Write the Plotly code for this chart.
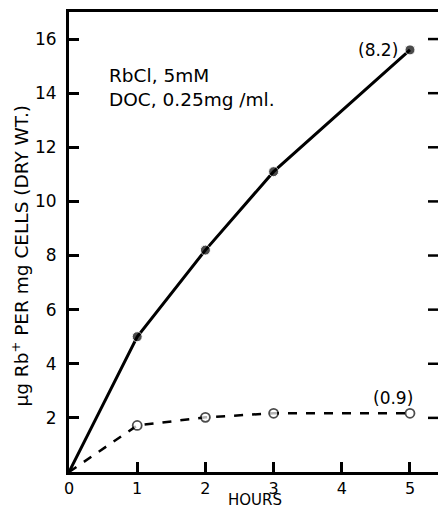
import plotly.graph_objects as go

hours = [0, 1, 2, 3, 5]
rb_with_doc = [0, 5.0, 8.2, 11.1, 15.6]
rb_control = [0, 1.72, 2.02, 2.17, 2.17]
y_ticks = [2, 4, 6, 8, 10, 12, 14, 16]
x_ticks = [0, 1, 2, 3, 4, 5]

font = "DejaVu Sans"
fig = go.Figure()
fig.add_trace(go.Scatter(x=hours, y=rb_with_doc, mode="lines+markers",
                         line=dict(color="black", width=3),
                         marker=dict(color="black", size=[0, 10, 10, 10, 10]),
                         showlegend=False, hoverinfo="skip"))
fig.add_trace(go.Scatter(x=hours, y=rb_control, mode="lines+markers",
                         line=dict(color="black", width=2.5, dash="dash"),
                         marker=dict(color="white", size=[0, 9, 9, 9, 9],
                                     line=dict(color="black", width=1.8)),
                         showlegend=False, hoverinfo="skip"))

# inside tick marks on the right edge of the plot
for v in y_ticks:
    fig.add_shape(type="line", xref="paper", yref="y", xsizemode="pixel",
                  xanchor=1, x0=-12, x1=0, y0=v, y1=v,
                  line=dict(color="black", width=2.5))

fig.add_annotation(x=5, y=rb_with_doc[-1], text="(8.2)", showarrow=False,
                   xanchor="right", yanchor="middle", xshift=-10, yshift=0,
                   font=dict(family=font, size=17, color="black"))
fig.add_annotation(x=5, y=rb_control[-1], text="(0.9)", showarrow=False,
                   xanchor="center", yanchor="bottom", xshift=-17, yshift=3,
                   font=dict(family=font, size=17, color="black"))
fig.add_annotation(x=0.55, y=14.2, text="RbCl, 5mM<br>DOC, 0.25mg /ml.",
                   showarrow=False, xanchor="left", yanchor="middle", align="left",
                   font=dict(family=font, size=18.5, color="black"))
fig.add_annotation(x=0.5, y=0, xref="paper", yref="paper", text="HOURS",
                   showarrow=False, xanchor="center", yanchor="middle", yshift=-28,
                   font=dict(family=font, size=15, color="black"))
fig.add_annotation(x=0, y=8.0, xref="paper", yref="y",
                   text="μg Rb<sup>+</sup> PER mg CELLS (DRY WT.)",
                   textangle=-90, showarrow=False, xanchor="center",
                   yanchor="middle", xshift=-49,
                   font=dict(family=font, size=18.5, color="black"))

fig.update_layout(
    width=438, height=500,
    margin=dict(l=61, r=6, t=4, b=36),
    paper_bgcolor="white", plot_bgcolor="white",
    font=dict(family=font, color="black", size=16),
    xaxis=dict(range=[0, 5.44], tickvals=x_ticks, ticks="inside", ticklen=10,
               tickwidth=2.5, tickcolor="black", showline=True, linewidth=3,
               linecolor="black", mirror=True, showgrid=False, zeroline=False,
               automargin=False, tickfont=dict(size=16)),
    yaxis=dict(range=[0, 17], tickvals=y_ticks, ticks="inside", ticklen=10,
               tickwidth=2.5, tickcolor="black", showline=True, linewidth=3,
               linecolor="black", showgrid=False, zeroline=False,
               automargin=False, ticklabelstandoff=6,
               tickfont=dict(size=17)),
)
fig.write_html("out.html")
